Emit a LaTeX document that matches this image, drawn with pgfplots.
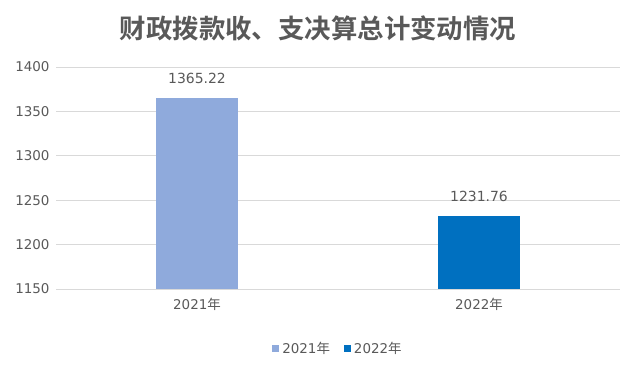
\documentclass[border=0pt]{standalone}
\usepackage{pgfplots}
\pgfplotsset{compat=1.18}
\usepackage{fontspec}
\setmainfont{DejaVu Sans}
\newfontfamily\cjk{Noto Sans CJK SC}[BoldFont=* Bold]
\definecolor{txt}{HTML}{595959}
\definecolor{gridc}{HTML}{D9D9D9}
\definecolor{cA}{HTML}{8FAADC}
\definecolor{cB}{HTML}{0070C0}
\begin{document}
\begin{tikzpicture}
\useasboundingbox (0,0) rectangle (640bp,372bp);
\node[text=txt, font=\fontsize{26.5}{30}\selectfont\cjk\bfseries] at (318bp,344bp) {财政拨款收、支决算总计变动情况};
\begin{axis}[
  at={(56bp,83bp)}, anchor=south west,
  scale only axis, width=564bp, height=222bp,
  ymin=1150, ymax=1400, ytick={1150,1200,...,1400},
  xmin=-0.5, xmax=1.5, xtick={0,1},
  xticklabels={2021{\cjk 年},2022{\cjk 年}},
  ymajorgrids, grid style={gridc, line width=0.8pt},
  axis line style={draw=none},
  axis x line*=bottom, axis y line*=left,
  x axis line style={draw=none},
  major tick length=0pt,
  tick label style={text=txt, font=\fontsize{13.5}{15}\selectfont},
  /pgf/number format/assume math mode=true,
  /pgf/number format/1000 sep={},
  yticklabel style={xshift=-3bp},
  xticklabel style={yshift=-6bp},
  ybar, bar width=82bp, bar shift=0pt,
  nodes near coords,
  nodes near coords style={text=txt, font=\fontsize{14}{16}\selectfont, yshift=11bp,
    /pgf/number format/fixed, /pgf/number format/fixed zerofill, /pgf/number format/precision=2},
  legend style={at={(0.5,-0.27)}, anchor=center, draw=none, legend columns=2,
    font=\fontsize{13.5}{15}\selectfont, text=txt,
    /tikz/every even column/.append style={column sep=12bp},
    /tikz/every odd column/.append style={column sep=1bp}},
  legend image code/.code={\fill[#1, draw=none] (0bp,-3.5bp) rectangle (7bp,3.5bp);},
  clip=false,
]
\draw[gridc, line width=0.8pt] (axis cs:-0.5,1150) -- (axis cs:1.5,1150);
\addplot[fill=cA, draw=none] coordinates {(0,1365.22)};
\addlegendentry{2021{\cjk 年}}
\addplot[fill=cB, draw=none] coordinates {(1,1231.76)};
\addlegendentry{2022{\cjk 年}}
\end{axis}
\end{tikzpicture}
\end{document}
